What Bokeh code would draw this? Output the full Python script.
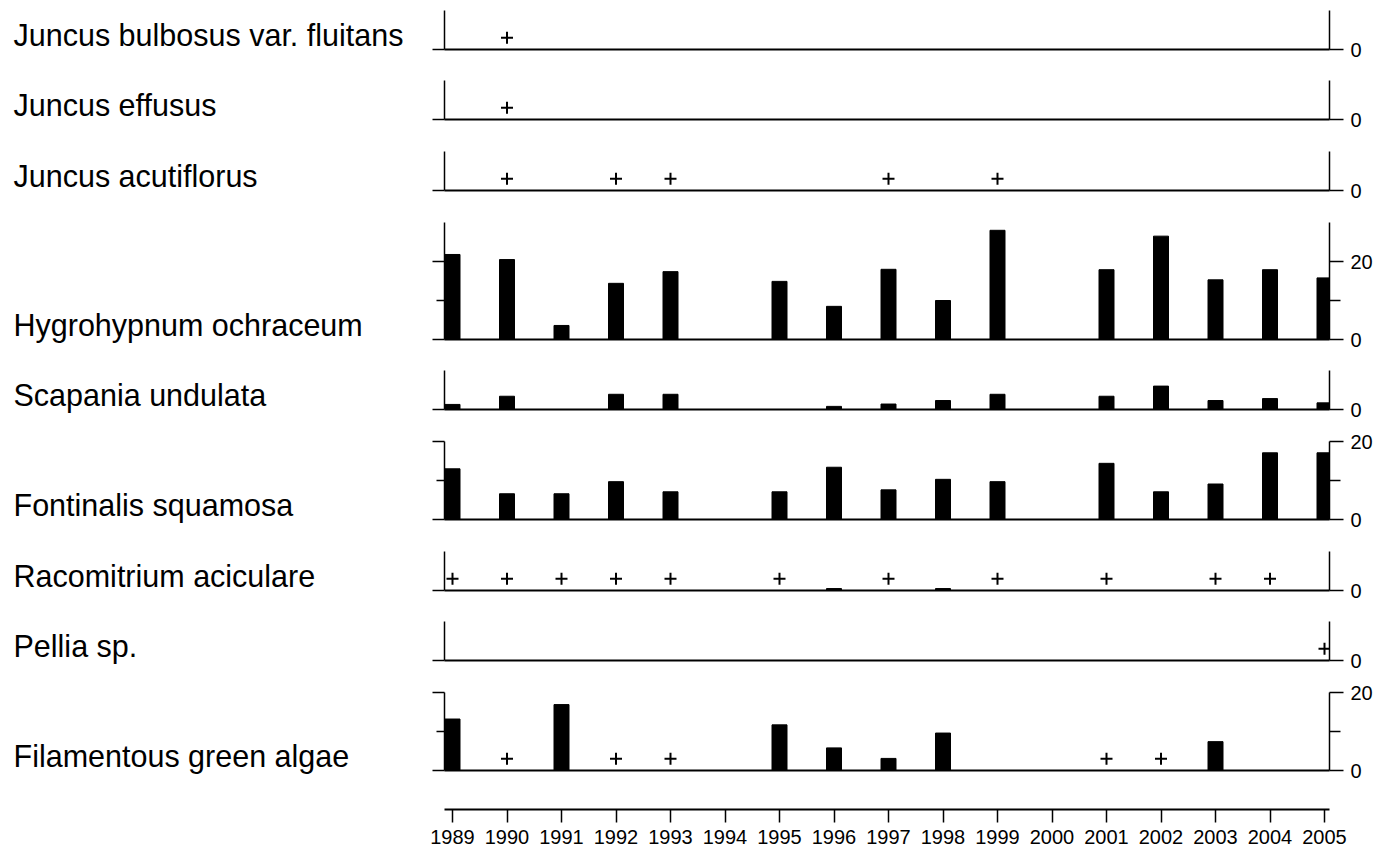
from bokeh.plotting import figure
from bokeh.models import ColumnDataSource, LinearAxis, FixedTicker, Range1d
from bokeh.layouts import column, row
from bokeh.core.properties import value
from bokeh.embed import file_html
from bokeh.resources import INLINE

# ---------------- data ----------------
years = [1989, 1990, 1991, 1992, 1993, 1994, 1995, 1996, 1997,
         1998, 1999, 2000, 2001, 2002, 2003, 2004, 2005]

species = ["Juncus bulbosus var. fluitans", "Juncus effusus", "Juncus acutiflorus",
           "Hygrohypnum ochraceum", "Scapania undulata", "Fontinalis squamosa",
           "Racomitrium aciculare", "Pellia sp.", "Filamentous green algae"]

N = None
# cover values per year (None = no bar)
juncus_bulbosus_cover = [N, N, N, N, N, N, N, N, N, N, N, N, N, N, N, N, N]
juncus_effusus_cover = [N, N, N, N, N, N, N, N, N, N, N, N, N, N, N, N, N]
juncus_acutiflorus_cover = [N, N, N, N, N, N, N, N, N, N, N, N, N, N, N, N, N]
hygrohypnum_cover = [21.8, 20.5, 3.6, 14.4, 17.4, N, 14.9, 8.5, 18.0,
                     10.0, 28.0, N, 17.9, 26.5, 15.3, 17.9, 15.8]
scapania_cover = [1.3, 3.4, N, 3.9, 3.9, N, N, 0.8, 1.4,
                  2.3, 3.9, N, 3.4, 6.0, 2.3, 2.8, 1.7]
fontinalis_cover = [13.0, 6.6, 6.6, 9.7, 7.1, N, 7.1, 13.4, 7.6,
                    10.3, 9.7, N, 14.4, 7.1, 9.1, 17.1, 17.1]
racomitrium_cover = [N, N, N, N, N, N, N, 0.5, N, 0.5, N, N, N, N, N, N, N]
pellia_cover = [N, N, N, N, N, N, N, N, N, N, N, N, N, N, N, N, N]
algae_cover = [13.2, N, 16.9, N, N, N, 11.7, 5.8, 3.1, 9.6, N, N, N, N, 7.4, N, N]

# years with "+" (present, trace)
juncus_bulbosus_plus = [1990]
juncus_effusus_plus = [1990]
juncus_acutiflorus_plus = [1990, 1992, 1993, 1997, 1999]
hygrohypnum_plus = []
scapania_plus = []
fontinalis_plus = []
racomitrium_plus = [1989, 1990, 1991, 1992, 1993, 1995, 1997, 1999, 2001, 2003, 2004]
pellia_plus = [2005]
algae_plus = [1990, 1992, 1993, 2001, 2002]

# axis maxima and ticks per panel
axis_max = [10, 10, 10, 30, 10, 20, 10, 10, 20]
major_ticks = [[0], [0], [0], [0, 20], [0], [0, 20], [0], [0], [0, 20]]
minor_ticks = [[], [], [], [10], [], [10], [], [], [10]]

covers = [juncus_bulbosus_cover, juncus_effusus_cover, juncus_acutiflorus_cover,
          hygrohypnum_cover, scapania_cover, fontinalis_cover,
          racomitrium_cover, pellia_cover, algae_cover]
pluses = [juncus_bulbosus_plus, juncus_effusus_plus, juncus_acutiflorus_plus,
          hygrohypnum_plus, scapania_plus, fontinalis_plus,
          racomitrium_plus, pellia_plus, algae_plus]

# ---------------- layout / style ----------------
FONT = "Liberation Sans"
SCALE = 3.9            # px per unit on every panel
PX_PER_YEAR = 54.5
X0 = 1989 - 8 / PX_PER_YEAR
X1 = 2005 + 5 / PX_PER_YEAR
FW = int(round((X1 - X0) * PX_PER_YEAR))
FRAME_LEFT = 444       # page x of panel frames
LABEL_W = 420          # width of label column
BORDER_R = 44
BORDER_B = 11
gaps_top = [10, 20, 21, 21, 20, 21, 21, 20, 21]
BAR_W = 15 / PX_PER_YEAR
PLUS_Y = 3
LABEL_MID = 15         # px between label middle and panel baseline
INK = "black"


def base_fig(**kw):
    f = figure(toolbar_location=None, output_backend="svg",
               x_axis_type=None, y_axis_type=None,
               background_fill_color="white", border_fill_color="white", **kw)
    f.outline_line_color = None
    return f


panels = []
baselines_px = []
acc = 0
for i, name in enumerate(species):
    ymax = axis_max[i]
    fh = int(round(ymax * SCALE))
    gap = gaps_top[i]
    baselines_px.append(acc + gap + fh)
    acc += gap + fh + BORDER_B

    p = base_fig(frame_width=FW, frame_height=fh,
                 x_range=Range1d(X0, X1), y_range=Range1d(0, ymax),
                 min_border_left=FRAME_LEFT - LABEL_W, min_border_right=BORDER_R,
                 min_border_top=gap, min_border_bottom=BORDER_B)

    left = LinearAxis(ticker=FixedTicker(ticks=major_ticks[i], minor_ticks=minor_ticks[i]),
                      major_label_text_font_size="0px", major_label_text_color=None,
                      major_label_standoff=0,
                      major_tick_out=12, major_tick_in=0, minor_tick_out=8, minor_tick_in=0,
                      axis_line_width=1.5, major_tick_line_width=1.5, minor_tick_line_width=1.5,
                      axis_line_color=INK, major_tick_line_color=INK, minor_tick_line_color=INK)
    right = LinearAxis(ticker=FixedTicker(ticks=major_ticks[i], minor_ticks=minor_ticks[i]),
                       major_label_text_font_size="20px", major_label_text_font=FONT,
                       major_label_text_color=INK, major_label_standoff=7,
                       major_tick_out=14, major_tick_in=0, minor_tick_out=11, minor_tick_in=0,
                       axis_line_width=1.5, major_tick_line_width=1.5, minor_tick_line_width=1.5,
                       axis_line_color=INK, major_tick_line_color=INK, minor_tick_line_color=INK)
    base = LinearAxis(ticker=FixedTicker(ticks=[]), major_label_text_font_size="0px",
                      major_tick_out=0, major_tick_in=0, minor_tick_out=0, minor_tick_in=0,
                      axis_line_width=2, axis_line_color=INK)
    p.add_layout(left, "left")
    p.add_layout(right, "right")
    p.add_layout(base, "below")

    bx = [y for y, v in zip(years, covers[i]) if v is not None]
    bt = [v for v in covers[i] if v is not None]
    if bx:
        src = ColumnDataSource(data=dict(x=bx, top=bt))
        p.vbar(x="x", top="top", bottom=0, width=BAR_W, source=src,
               fill_color=INK, line_color=INK)
    if pluses[i]:
        psrc = ColumnDataSource(data=dict(x=pluses[i], y=[PLUS_Y] * len(pluses[i])))
        p.scatter(x="x", y="y", source=psrc, marker="cross", size=12,
                  line_width=2, line_color=INK)
    panels.append(p)

# label column: one tall figure, y measured in px from its top
TOTAL_H = acc
lf = base_fig(frame_width=LABEL_W, frame_height=TOTAL_H,
              x_range=Range1d(0, LABEL_W), y_range=Range1d(TOTAL_H, 0),
              min_border_left=0, min_border_right=0, min_border_top=0, min_border_bottom=0)
lsrc = ColumnDataSource(data=dict(x=[13] * len(species),
                                  y=[b - LABEL_MID for b in baselines_px],
                                  name=species))
lf.text(x="x", y="y", text="name", source=lsrc, text_font=value(FONT),
        text_font_size="30.5px", text_color=INK, text_baseline="middle",
        text_align="left")

# year axis
pa = base_fig(frame_width=FW, frame_height=1,
              x_range=Range1d(X0, X1), y_range=Range1d(0, 1),
              min_border_left=FRAME_LEFT, min_border_right=BORDER_R,
              min_border_top=27, min_border_bottom=0)
xa = LinearAxis(ticker=FixedTicker(ticks=years, minor_ticks=[]),
                major_label_overrides={y: str(y) for y in years},
                major_label_text_font=FONT, major_label_text_font_size="20px",
                major_label_text_color=INK, major_label_standoff=7,
                major_tick_out=13, major_tick_in=0, major_tick_line_width=1.5,
                axis_line_width=2, axis_line_color=INK, major_tick_line_color=INK)
pa.add_layout(xa, "below")

layout = column(row(lf, column(*panels, spacing=0), spacing=0), pa, spacing=0)
open("out.html", "w").write(file_html(layout, INLINE))
